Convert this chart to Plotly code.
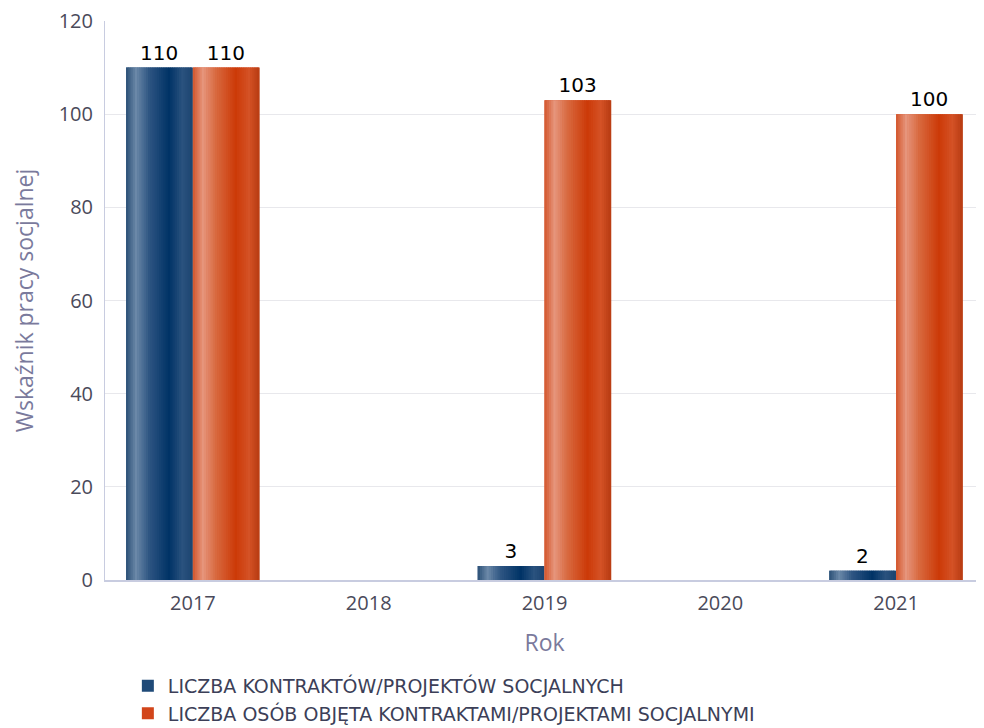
import plotly.graph_objects as go

years = ["2017", "2018", "2019", "2020", "2021"]
contracts = [110, None, 3, None, 2]
persons = [110, None, 103, None, 100]
series_names = ["LICZBA KONTRAKTÓW/PROJEKTÓW SOCJALNYCH",
                "LICZBA OSÓB OBJĘTA KONTRAKTAMI/PROJEKTAMI SOCJALNYMI"]

# gradient stops (position across the bar, colour)
blue_stops = [(0.0, (0x2b, 0x50, 0x77)), (0.15, (0x6b, 0x88, 0xa8)), (0.35, (0x2e, 0x55, 0x82)),
              (0.65, (0x00, 0x33, 0x66)), (0.85, (0x2a, 0x52, 0x7e)), (1.0, (0x1d, 0x45, 0x70))]
orange_stops = [(0.0, (0xd3, 0x56, 0x2c)), (0.15, (0xe6, 0x95, 0x7c)), (0.35, (0xd8, 0x69, 0x3f)),
                (0.65, (0xcc, 0x3a, 0x08)), (0.85, (0xd4, 0x52, 0x26)), (1.0, (0xb8, 0x3c, 0x12))]


def grad_colors(stops, n):
    out = []
    for k in range(n):
        t = (k + 0.5) / n
        for (p0, c0), (p1, c1) in zip(stops[:-1], stops[1:]):
            if p0 <= t <= p1:
                f = (t - p0) / (p1 - p0)
                c = tuple(round(a + (b - a) * f) for a, b in zip(c0, c1))
                out.append("rgb(%d,%d,%d)" % c)
                break
    return out


bar_w = 0.38
N = 30
fig = go.Figure()

for name, vals, base_col, stops, off in [
    (series_names[0], contracts, "#1f4a78", blue_stops, -bar_w),
    (series_names[1], persons, "#d2451a", orange_stops, 0.0),
]:
    fig.add_trace(go.Bar(
        x=years, y=vals, name=name, width=bar_w - 0.004, offset=off,
        marker=dict(color=base_col, line=dict(width=0)),
        text=[("" if v is None else str(v)) for v in vals],
        textposition="outside", cliponaxis=False,
        textfont=dict(family="DejaVu Sans", size=20, color="#000000"),
        hoverinfo="skip",
    ))
    sw = (bar_w - 0.004) / N
    for i, c in enumerate(grad_colors(stops, N)):
        fig.add_trace(go.Bar(
            x=years, y=vals, width=sw * 1.3, offset=off + i * sw,
            marker=dict(color=c, line=dict(width=0)),
            showlegend=False, hoverinfo="skip",
        ))

# the page body adds an 8px offset, so the figure is 8px smaller on each axis
fig.update_layout(
    width=976, height=720,
    barmode="overlay",
    plot_bgcolor="white", paper_bgcolor="white",
    margin=dict(l=97, r=0, t=13, b=148),
    font=dict(family="Open Sans", color="#4a4a5a"),
    legend=dict(
        orientation="v", xref="paper", yref="container",
        x=0.026, y=0.085, xanchor="left", yanchor="top",
        font=dict(family="DejaVu Sans", size=19, color="#3c3f58"),
        tracegroupgap=0, itemwidth=30,
    ),
    showlegend=True,
)
fig.update_xaxes(
    type="category", categoryorder="array", categoryarray=years,
    title=dict(text="Rok", font=dict(size=23, color="#7a7a9c"), standoff=20),
    tickfont=dict(size=20, color="#4a4a5a"),
    showline=True, linecolor="#c8cce0", linewidth=2,
    ticks="outside", ticklen=4, tickcolor="rgba(0,0,0,0)",
    showgrid=False, automargin=False, ticklabeloverflow="allow",
)
fig.update_yaxes(
    range=[0, 120], dtick=20,
    title=dict(text="Wskaźnik pracy socjalnej", font=dict(size=23, color="#7a7a9c"), standoff=29),
    tickfont=dict(size=20, color="#4a4a5a"),
    showline=True, linecolor="#c8cce0", linewidth=1,
    gridcolor="#e8e8ec", gridwidth=1, zeroline=False,
    ticks="outside", tickcolor="rgba(0,0,0,0)", ticklen=7, automargin=False,
    ticklabeloverflow="allow",
)

fig.write_html("out.html")
